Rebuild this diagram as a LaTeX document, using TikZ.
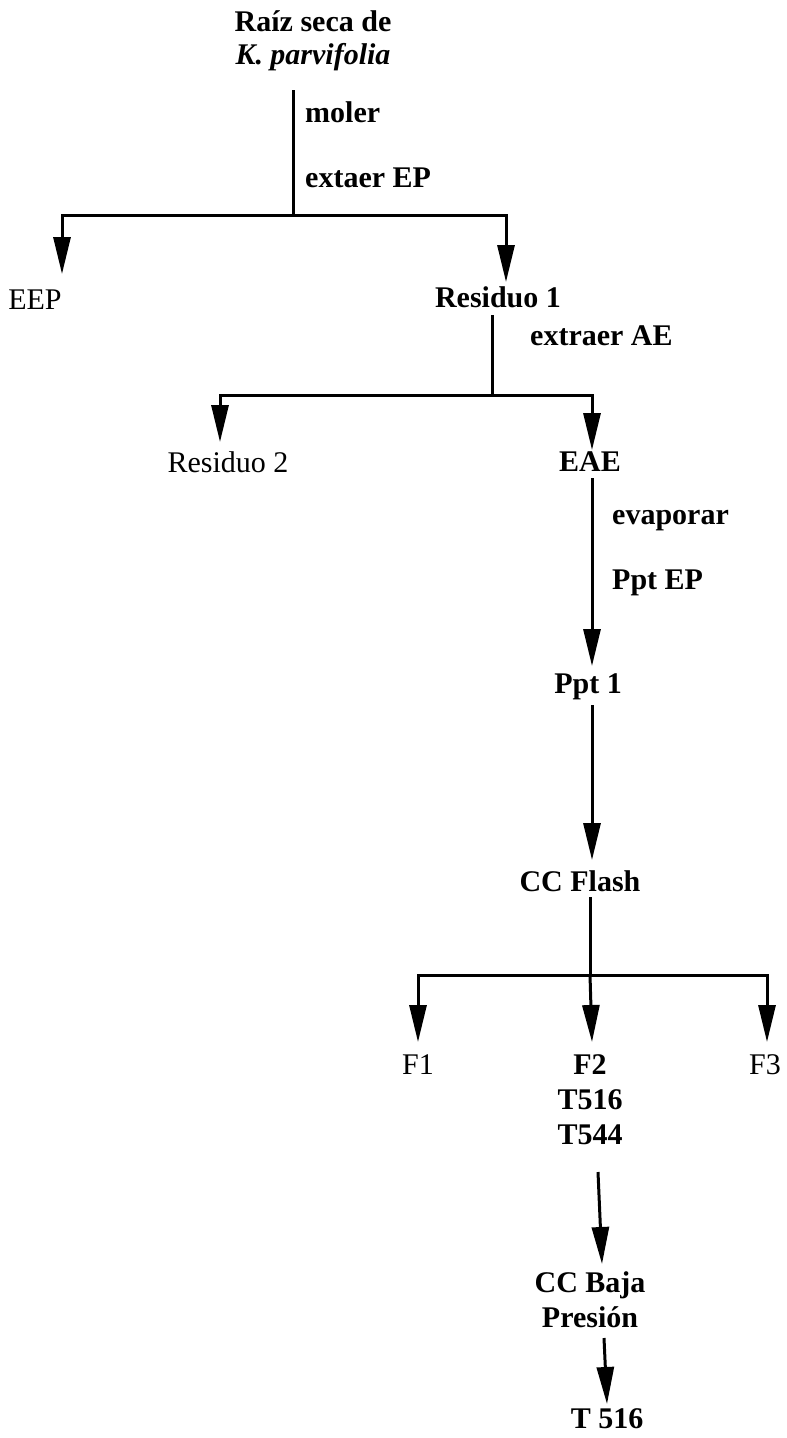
\documentclass[tikz,border=0pt]{standalone}
\usepackage{fontspec}
\setmainfont{Liberation Serif}
\usetikzlibrary{arrows.meta}
\begin{document}
\begin{tikzpicture}[x=1pt,y=-1pt,
 lbl/.style={inner sep=0pt, font=\fontsize{30}{35}\selectfont\bfseries, align=center},
 lblr/.style={inner sep=0pt, font=\fontsize{30}{35}\selectfont, align=center},
 side/.style={lbl, anchor=west},
 ln/.style={line width=3pt},
 arr/.style={line width=3pt, -{Triangle[length=37pt,width=17pt]}}]
\useasboundingbox (0,0) rectangle (787,1438);
% level 1
\node[lbl, font=\fontsize{30}{33}\selectfont\bfseries] (raiz) at (313,41) {Raíz seca de\\\textit{K. parvifolia}};
\coordinate (s1) at (293,90);
\coordinate (j1) at (293,215);
\node[side] (moler) at (305,112) {moler};
\node[side] (extEP) at (305,178) {extaer EP};
\node[lblr] (eep) at (35,300) {EEP};
\node[lbl] (res1) at (498,297) {Residuo 1};
\coordinate (t1) at (62,274);
\coordinate (t2) at (506,282);
\draw[ln] (s1) -- (j1);
\draw[arr] (j1) -| (t1);
\draw[arr] (j1) -| (t2);
% level 2
\coordinate (s2) at (492,315);
\coordinate (j2) at (492,395);
\node[side] (extAE) at (530,336) {extraer AE};
\node[lblr] (res2) at (228,462) {Residuo 2};
\node[lbl] (eae) at (590,462) {EAE};
\coordinate (t3) at (220,442);
\coordinate (t4) at (592,450);
\draw[ln] (s2) -- (j2);
\draw[arr] (j2) -| (t3);
\draw[arr] (j2) -| (t4);
% level 3
\coordinate (s3) at (592,478);
\coordinate (t5) at (592,666);
\node[side] (evap) at (612,521) {evaporar};
\node[side] (pptep) at (612,583) {Ppt EP};
\node[lbl] (ppt1) at (588,687) {Ppt 1};
\draw[arr] (s3) -- (t5);
\coordinate (s4) at (592,705);
\coordinate (t6) at (592,860);
\node[lbl] (ccf) at (580,881) {CC Flash};
\draw[arr] (s4) -- (t6);
% level 4
\coordinate (s5) at (590,897);
\coordinate (j3) at (590,975);
\coordinate (t7) at (418,1042);
\coordinate (t8) at (592,1042);
\coordinate (t9) at (767,1042);
\node[lblr] (f1) at (418,1065) {F1};
\node[lbl] (f2) at (590,1100) {F2\\T516\\T544};
\node[lblr] (f3) at (765,1065) {F3};
\draw[ln] (s5) -- (j3);
\draw[arr] (j3) -| (t7);
\draw[arr] (j3) -- (t8);
\draw[arr] (j3) -| (t9);
% level 5
\coordinate (s6) at (598,1172);
\coordinate (t10) at (602,1264);
\node[lbl] (ccb) at (590,1300) {CC Baja\\Presión};
\draw[arr] (s6) -- (t10);
\coordinate (s7) at (604,1338);
\coordinate (t11) at (607,1404);
\node[lbl] (t516) at (607,1419) {T 516};
\draw[arr] (s7) -- (t11);
\end{tikzpicture}
\end{document}
